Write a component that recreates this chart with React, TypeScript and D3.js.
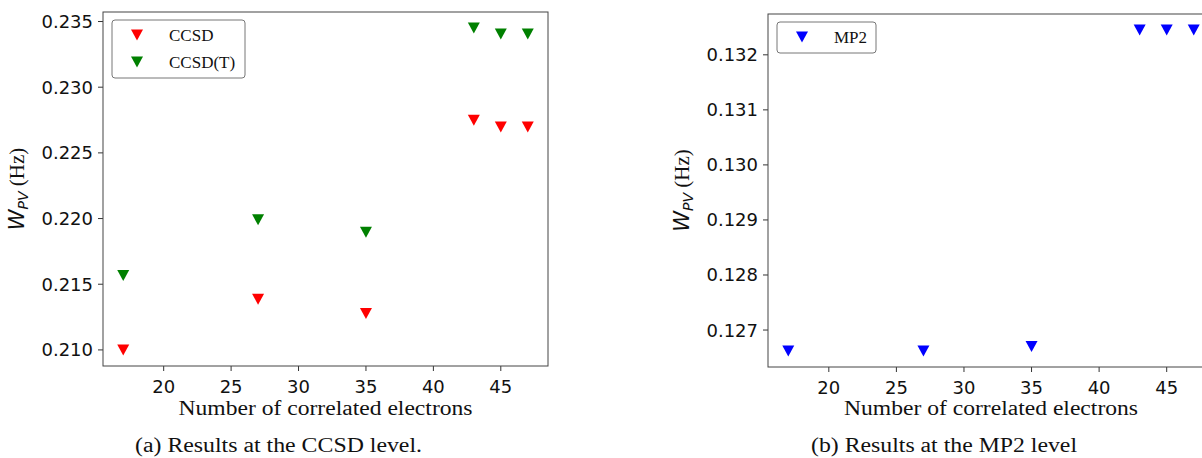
import React from "react";
import * as d3 from "d3";

const electrons = [17, 27, 35, 43, 45, 47];
const ccsd = [0.2100, 0.21385, 0.21278, 0.22748, 0.22697, 0.22697];
const ccsdT = [0.21566, 0.2199, 0.21896, 0.2345, 0.23405, 0.23405];
const mp2 = [0.12662, 0.12662, 0.1267, 0.13245, 0.13245, 0.13245];

const xTicks = [20, 25, 30, 35, 40, 45];
const yTicksA = [0.21, 0.215, 0.22, 0.225, 0.23, 0.235];
const yTicksB = [0.127, 0.128, 0.129, 0.13, 0.131, 0.132];

const xLabel = "Number of correlated electrons";
const captionA = "(a) Results at the CCSD level.";
const captionB = "(b) Results at the MP2 level";

type Series = { name: string; color: string; values: number[] };

const TICK_FONT = "DejaVu Sans, sans-serif";
const SERIF = "Liberation Serif, Times New Roman, serif";

function tri(cx: number, cy: number, w = 12, h = 11) {
  return `M${cx - w / 2},${cy - h / 2}L${cx + w / 2},${cy - h / 2}L${cx},${cy + h / 2}Z`;
}

function Panel(props: {
  left: number;
  right: number;
  top: number;
  bottom: number;
  series: Series[];
  yTicks: number[];
  yFmt: (v: number) => string;
  legendW: number;
  caption: string;
  captionX: number;
  captionW: number;
}) {
  const { left, right, top, bottom, series, yTicks, yFmt, legendW, caption, captionX, captionW } = props;
  const allVals = series.flatMap((s) => s.values);
  const yMin = d3.min(allVals)!;
  const yMax = d3.max(allVals)!;
  const yPad = (yMax - yMin) * 0.05;
  const xMin = d3.min(electrons)!;
  const xMax = d3.max(electrons)!;
  const xPad = (xMax - xMin) * 0.05;
  const x = d3.scaleLinear().domain([xMin - xPad, xMax + xPad]).range([left, right]);
  const y = d3.scaleLinear().domain([yMin - yPad, yMax + yPad]).range([bottom, top]);
  const legendH = series.length * 27 + 4;
  const lx = left + 9;
  const ly = top + 8;
  const midY = (top + bottom) / 2;
  return (
    <g>
      {xTicks.map((t) => (
        <g key={"x" + t}>
          <line x1={x(t)} x2={x(t)} y1={bottom} y2={bottom + 5} stroke="#333" strokeWidth={1} />
          <text x={x(t)} y={bottom + 27} textAnchor="middle" fontFamily={TICK_FONT} fontSize={18} fill="#111">
            {t}
          </text>
        </g>
      ))}
      {yTicks.map((t) => (
        <g key={"y" + t}>
          <line x1={left - 5} x2={left} y1={y(t)} y2={y(t)} stroke="#333" strokeWidth={1} />
          <text x={left - 10} y={y(t) + 6.5} textAnchor="end" fontFamily={TICK_FONT} fontSize={18} fill="#111">
            {yFmt(t)}
          </text>
        </g>
      ))}
      {series.map((s) =>
        s.values.map((v, i) => (
          <path key={s.name + i} d={tri(x(electrons[i]), y(v))} fill={s.color} />
        ))
      )}
      <rect x={left} y={top} width={right - left} height={bottom - top} fill="none" stroke="#444" strokeWidth={1} />
      <rect x={lx} y={ly} width={legendW} height={legendH} rx={3} fill="white" stroke="#777" strokeWidth={1} />
      {series.map((s, i) => (
        <g key={"lg" + s.name}>
          <path d={tri(lx + 25, ly + 15 + i * 27)} fill={s.color} />
          <text x={lx + 57} y={ly + 21 + i * 27} fontFamily={SERIF} fontSize={17} fill="#111">
            {s.name}
          </text>
        </g>
      ))}
      <text
        x={(left + right) / 2}
        y={415}
        textAnchor="middle"
        fontFamily={SERIF}
        fontSize={20.5}
        textLength={294}
        lengthAdjust="spacingAndGlyphs"
        fill="#111"
      >
        {xLabel}
      </text>
      <text transform={`translate(${left - 79},${midY}) rotate(-90)`} textAnchor="middle" fill="#111">
        <tspan fontFamily={TICK_FONT} fontStyle="italic" fontSize={21}>W</tspan>
        <tspan fontFamily={TICK_FONT} fontStyle="italic" fontSize={14} dy={4}>PV</tspan>
        <tspan fontFamily={SERIF} fontSize={21} dy={-4}>{" (Hz)"}</tspan>
      </text>
      <text
        x={captionX}
        y={452}
        textAnchor="middle"
        fontFamily={SERIF}
        fontSize={20}
        textLength={captionW}
        lengthAdjust="spacingAndGlyphs"
        fill="#111"
      >
        {caption}
      </text>
    </g>
  );
}

export default function App() {
  return (
    <svg width={1202} height={458} style={{ position: "absolute", left: 0, top: 0, background: "white" }}>
      <rect width={1202} height={458} fill="white" />
      <Panel
        left={103}
        right={548}
        top={12}
        bottom={366}
        series={[
          { name: "CCSD", color: "#ff0000", values: ccsd },
          { name: "CCSD(T)", color: "#008000", values: ccsdT },
        ]}
        yTicks={yTicksA}
        yFmt={d3.format(".3f")}
        legendW={133}
        caption={captionA}
        captionX={278.5}
        captionW={287}
      />
      <Panel
        left={768}
        right={1214}
        top={14}
        bottom={367}
        series={[{ name: "MP2", color: "#0000ff", values: mp2 }]}
        yTicks={yTicksB}
        yFmt={d3.format(".3f")}
        legendW={99}
        caption={captionB}
        captionX={944}
        captionW={266}
      />
    </svg>
  );
}
